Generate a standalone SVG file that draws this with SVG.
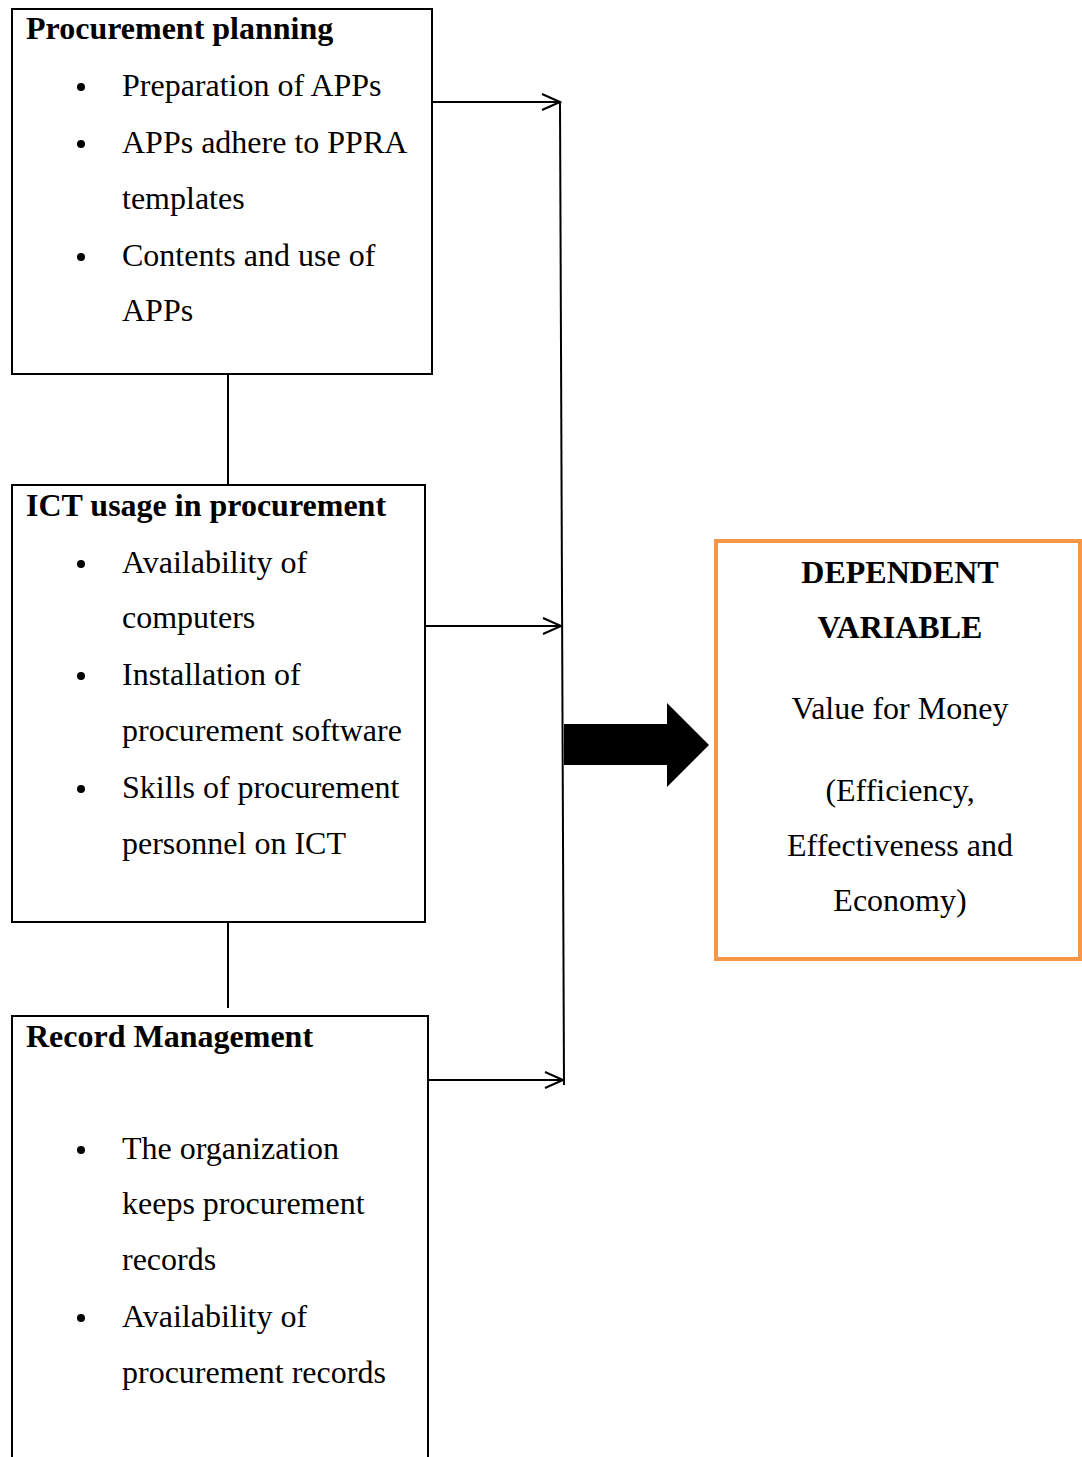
<svg xmlns="http://www.w3.org/2000/svg" width="1082" height="1457" viewBox="0 0 1082 1457">
<style>
text{font-family:"Liberation Serif","Times New Roman",serif;font-size:32px;fill:#000}
.b{font-weight:bold}
.c{text-anchor:middle}
.box{fill:#fff;stroke:#000;stroke-width:2}
.dep{fill:#fff;stroke:#F79646;stroke-width:4}
.ln{stroke:#000;stroke-width:2;fill:none}
</style>
<defs>
<marker id="ah" markerWidth="24" markerHeight="20" refX="22" refY="10" orient="auto" markerUnits="userSpaceOnUse">
<path d="M4,2 L22,10 L4,18" fill="none" stroke="#000" stroke-width="2"/>
</marker>
</defs>
<rect width="1082" height="1457" fill="#fff"/>
<g id="connectors">
<line class="ln" x1="228" y1="374" x2="228" y2="487"/>
<line class="ln" x1="228" y1="918" x2="228" y2="1008"/>
<line class="ln" x1="560" y1="102" x2="564" y2="1085"/>
<line class="ln" x1="432" y1="102" x2="560" y2="102" marker-end="url(#ah)"/>
<line class="ln" x1="422" y1="626" x2="561" y2="626" marker-end="url(#ah)"/>
<line class="ln" x1="424" y1="1080" x2="563" y2="1080" marker-end="url(#ah)"/>
<polygon points="564,724 667,724 667,703 709,745 667,787 667,765 564,765" fill="#000"/>
</g>
<g id="procurement-planning">
<rect class="box" x="12" y="9" width="420" height="365"/>
<text class="b" x="26" y="39">Procurement planning</text>
<circle cx="81" cy="87" r="4"/><text x="122" y="96">Preparation of APPs</text>
<circle cx="81" cy="144" r="4"/><text x="122" y="153">APPs adhere to PPRA</text>
<text x="122" y="209">templates</text>
<circle cx="81" cy="257" r="4"/><text x="122" y="266">Contents and use of</text>
<text x="122" y="321">APPs</text>
</g>
<g id="ict-usage">
<rect class="box" x="12" y="485" width="413" height="437"/>
<text class="b" x="26" y="516">ICT usage in procurement</text>
<circle cx="81" cy="564" r="4"/><text x="122" y="573">Availability of</text>
<text x="122" y="628">computers</text>
<circle cx="81" cy="676" r="4"/><text x="122" y="685">Installation of</text>
<text x="122" y="741">procurement software</text>
<circle cx="81" cy="789" r="4"/><text x="122" y="798">Skills of procurement</text>
<text x="122" y="854">personnel on ICT</text>
</g>
<g id="record-management">
<rect class="box" x="12" y="1016" width="416" height="460"/>
<text class="b" x="26" y="1047">Record Management</text>
<circle cx="81" cy="1150" r="4"/><text x="122" y="1159">The organization</text>
<text x="122" y="1214">keeps procurement</text>
<text x="122" y="1270">records</text>
<circle cx="81" cy="1318" r="4"/><text x="122" y="1327">Availability of</text>
<text x="122" y="1383">procurement records</text>
</g>
<g id="dependent-variable">
<rect class="dep" x="716" y="541" width="364" height="418"/>
<text class="b c" x="900" y="583">DEPENDENT</text>
<text class="b c" x="900" y="638">VARIABLE</text>
<text class="c" x="900" y="719">Value for Money</text>
<text class="c" x="900" y="801">(Efficiency,</text>
<text class="c" x="900" y="856">Effectiveness and</text>
<text class="c" x="900" y="911">Economy)</text>
</g>
</svg>
